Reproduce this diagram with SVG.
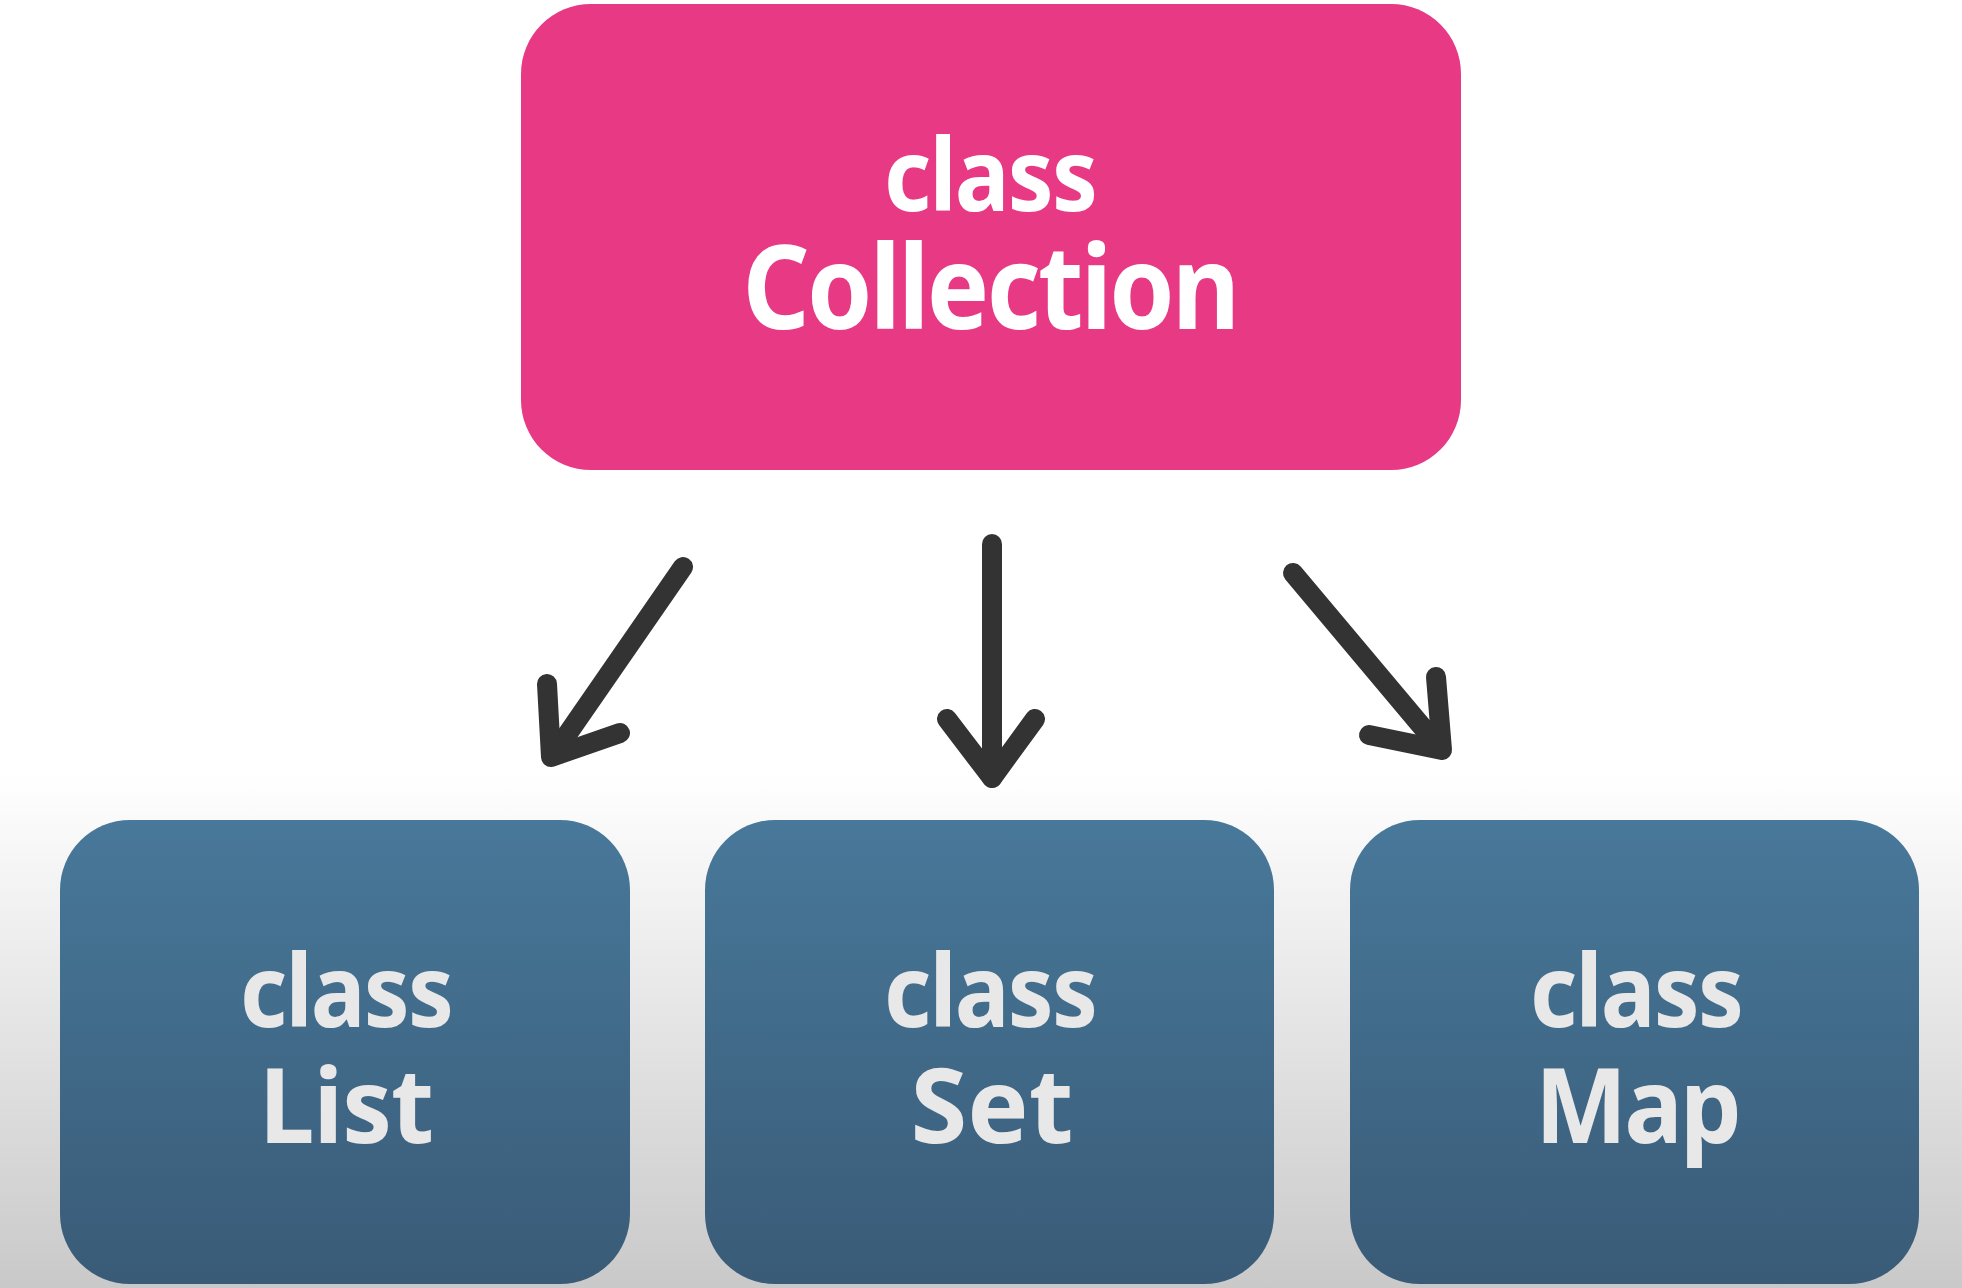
<svg xmlns="http://www.w3.org/2000/svg" width="1962" height="1288" viewBox="0 0 1962 1288">
  <defs>
    <linearGradient id="bg" x1="0" y1="0" x2="0" y2="1288" gradientUnits="userSpaceOnUse">
      <stop offset="0" stop-color="#FFFFFF"/>
      <stop offset="0.6" stop-color="#FFFFFF"/>
      <stop offset="1" stop-color="#C9C9C9"/>
    </linearGradient>
    <linearGradient id="blue" x1="0" y1="0" x2="0" y2="1">
      <stop offset="0" stop-color="#48789A"/>
      <stop offset="1" stop-color="#395B77"/>
    </linearGradient>
    <style>
      .pink { fill: #E73984; }
      .blue { fill: url(#blue); }
      .t { font-family: "Noto Sans", "Open Sans", "Liberation Sans", sans-serif; font-weight: 700; text-anchor: middle; }
      .tw { fill: #FFFFFF; }
      .tg { fill: #E8E8E8; }
      .arrow { fill: none; stroke: #333333; stroke-linecap: round; stroke-linejoin: round; }
    </style>
  </defs>
  <rect x="0" y="0" width="1962" height="1288" fill="url(#bg)"/>

  <g id="node-collection">
    <rect class="pink" x="521" y="4" width="940" height="466" rx="70" ry="70"/>
    <text class="t tw" x="990" y="211" font-size="100" letter-spacing="-2" textLength="212" lengthAdjust="spacingAndGlyphs">class</text>
    <text class="t tw" x="990" y="329" font-size="116" letter-spacing="-3" textLength="495" lengthAdjust="spacingAndGlyphs">Collection</text>
  </g>

  <g id="node-list">
    <rect class="blue" x="60" y="820" width="570" height="464" rx="70" ry="70"/>
    <text class="t tg" x="346" y="1027" font-size="100" letter-spacing="-2" textLength="212" lengthAdjust="spacingAndGlyphs">class</text>
    <text class="t tg" x="346" y="1143" font-size="104" letter-spacing="-1" textLength="174" lengthAdjust="spacingAndGlyphs">List</text>
  </g>

  <g id="node-set">
    <rect class="blue" x="705" y="820" width="569" height="464" rx="70" ry="70"/>
    <text class="t tg" x="990" y="1027" font-size="100" letter-spacing="-2" textLength="212" lengthAdjust="spacingAndGlyphs">class</text>
    <text class="t tg" x="992" y="1143" font-size="104" textLength="163" lengthAdjust="spacingAndGlyphs">Set</text>
  </g>

  <g id="node-map">
    <rect class="blue" x="1350" y="820" width="569" height="464" rx="70" ry="70"/>
    <text class="t tg" x="1636" y="1027" font-size="100" letter-spacing="-2" textLength="212" lengthAdjust="spacingAndGlyphs">class</text>
    <text class="t tg" x="1637" y="1143" font-size="104" letter-spacing="-3" textLength="204" lengthAdjust="spacingAndGlyphs">Map</text>
  </g>

  <g id="connectors">
    <path class="arrow" stroke-width="20" d="M 683 567 L 553 755"/>
    <path class="arrow" stroke-width="20" d="M 547 684 L 551 757 L 620 733"/>
    <path class="arrow" stroke-width="20" d="M 992 544 L 992 778"/>
    <path class="arrow" stroke-width="20" d="M 947 719 L 992 778 L 1035 719"/>
    <path class="arrow" stroke-width="20" d="M 1293 573 L 1440 748"/>
    <path class="arrow" stroke-width="20" d="M 1436 677 L 1442 750 L 1369 735"/>
  </g>
</svg>
